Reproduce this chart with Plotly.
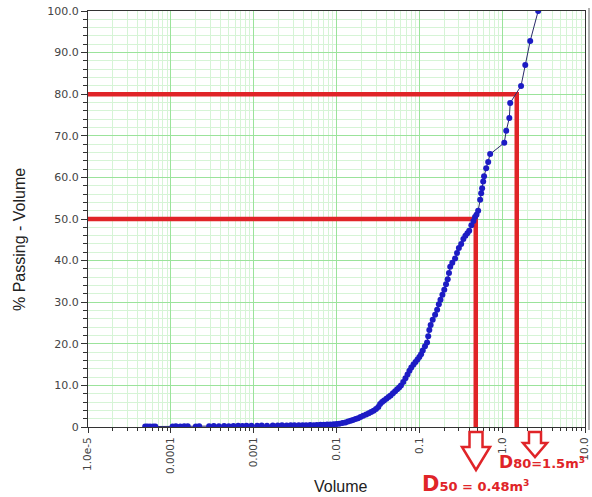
import math
import plotly.graph_objects as go

# ---------------- data ----------------
volume = [4.9e-5, 5.2e-5, 5.6e-5, 6.1e-5, 6.5e-5, 1.05e-4, 1.15e-4, 1.3e-4, 1.45e-4, 1.6e-4,
          2.0e-4, 2.2e-4, 2.9e-4, 3.3e-4, 3.8e-4, 4.4e-4, 5.0e-4, 5.7e-4, 6.5e-4, 7.3e-4,
          8.2e-4, 9.4e-4, 1.1e-3, 1.25e-3, 1.45e-3, 1.7e-3, 1.95e-3, 2.2e-3, 2.5e-3, 2.8e-3,
          3.1e-3, 3.5e-3, 3.9e-3, 4.3e-3, 4.8e-3, 5.3e-3, 5.8e-3, 6.4e-3, 7.0e-3, 7.7e-3,
          8.4e-3, 9.2e-3, 0.0100, 0.0108, 0.0118, 0.0128, 0.0138, 0.0148, 0.0158, 0.0170,
          0.0182, 0.0195, 0.0210, 0.0228, 0.0245, 0.0262, 0.0280, 0.0300, 0.0320, 0.0336,
          0.0355, 0.0375, 0.0400, 0.0425, 0.0450, 0.0480, 0.0510, 0.0540, 0.0570, 0.0600,
          0.0640, 0.0680, 0.0720, 0.0760, 0.0800, 0.0850, 0.0900, 0.0950, 0.1000, 0.1050,
          0.1100, 0.1170, 0.1240, 0.1280, 0.1320, 0.1370, 0.1450, 0.1550, 0.1640, 0.1720,
          0.1800, 0.1900, 0.2000, 0.2100, 0.2200, 0.2280, 0.2360, 0.2500, 0.2700, 0.2850,
          0.3000, 0.3200, 0.3400, 0.3600, 0.3800, 0.4000, 0.4250, 0.4500, 0.4700, 0.4900,
          0.5130, 0.5420, 0.5580, 0.5730, 0.5900, 0.6050, 0.6410, 0.6780, 0.7160, 1.0600,
          1.1200, 1.2200, 1.2500, 1.6900, 1.9000, 2.1800, 2.7200]
passing = [0.1, 0.1, 0.15, 0.1, 0.15, 0.1, 0.2, 0.15, 0.2, 0.2,
           0.15, 0.2, 0.2, 0.25, 0.2, 0.25, 0.2, 0.25, 0.3, 0.25,
           0.3, 0.3, 0.3, 0.35, 0.3, 0.35, 0.35, 0.4, 0.35, 0.4,
           0.4, 0.45, 0.4, 0.45, 0.5, 0.45, 0.5, 0.55, 0.55, 0.6,
           0.6, 0.65, 0.7, 0.8, 0.95, 1.1, 1.3, 1.5, 1.7, 1.9,
           2.1, 2.4, 2.7, 3.0, 3.3, 3.6, 3.9, 4.3, 4.8, 5.5,
           6.0, 6.4, 6.8, 7.2, 7.6, 8.1, 8.6, 9.1, 9.5, 10.0,
           10.8, 11.7, 12.6, 13.5, 14.3, 15.0, 15.6, 16.2, 16.8, 17.5,
           18.4, 19.4, 20.3, 21.8, 23.3, 24.5, 25.8, 27.0, 28.2, 29.5,
           30.6, 31.8, 33.0, 34.3, 35.5, 37.0, 38.5, 39.5, 40.5, 41.8,
           43.0, 44.0, 45.2, 46.0, 46.6, 47.2, 48.5, 49.5, 50.5, 51.0,
           52.0, 54.6, 56.2, 57.4, 59.0, 60.3, 62.2, 63.7, 65.6, 68.3,
           71.2, 74.3, 77.9, 82.0, 87.0, 92.8, 100.0]

d_names = ["50", "80"]
d_sizes = [0.48, 1.5]          # m3
d_passing = [50, 80]

x_tick_vals = [1e-5, 1e-4, 1e-3, 1e-2, 1e-1, 1, 10]
x_tick_text = ["1.0e-5", "0.0001", "0.001", "0.01", "0.1", "1.0", "10.0"]
y_tick_vals = [0, 10, 20, 30, 40, 50, 60, 70, 80, 90, 100]
y_tick_text = ["0", "10.0", "20.0", "30.0", "40.0", "50.0", "60.0", "70.0", "80.0", "90.0", "100.0"]

# ---------------- layout geometry ----------------
W, H = 592, 497
ML, MR, MT, MB = 88, 7, 11, 70
PW, PH = W - ML - MR, H - MT - MB
X_MIN_LOG, X_MAX_LOG = -5, 1

RED = "#e02428"
MAJOR_GRID = "#9be39b"
MINOR_GRID = "#d6f4d6"


def px_x(px):
    return (px - ML) / PW


def px_y(py):
    return (H - MB - py) / PH


fig = go.Figure()

# reference lines for D50 / D80
x_left = 10 ** X_MIN_LOG
for d, p in zip(d_sizes, d_passing):
    fig.add_trace(go.Scatter(x=[x_left, d, d], y=[p, p, 0], mode="lines",
                             line=dict(color=RED, width=4.5), hoverinfo="skip",
                             showlegend=False, cliponaxis=False))

# data curve
fig.add_trace(go.Scatter(x=volume, y=passing, mode="lines+markers",
                         line=dict(color="#2a2a6a", width=1),
                         marker=dict(color="#1c1cc4", size=6, symbol="circle"),
                         showlegend=False))

minor_x = [k * 10 ** e for e in range(X_MIN_LOG, X_MAX_LOG) for k in range(2, 10)]

fig.update_xaxes(type="log", range=[X_MIN_LOG, X_MAX_LOG], automargin=False,
                 tickmode="array", tickvals=x_tick_vals, ticktext=x_tick_text,
                 tickangle=-90, ticks="outside", ticklen=5, tickcolor="#333",
                 tickfont=dict(family="DejaVu Sans", size=10.5, color="#444"),
                 showgrid=True, gridcolor=MAJOR_GRID, gridwidth=1.2,
                 minor=dict(tickmode="array", tickvals=minor_x, ticks="outside",
                            ticklen=3, tickcolor="#333", showgrid=True,
                            gridcolor=MINOR_GRID, gridwidth=1),
                 showline=True, linecolor="#333", linewidth=1.2, mirror=True,
                 zeroline=False)
fig.update_yaxes(range=[0, 100], automargin=False, tickmode="array", tickvals=y_tick_vals,
                 ticktext=y_tick_text, ticks="outside", ticklen=6, tickcolor="#333",
                 tickfont=dict(family="DejaVu Sans", size=11, color="#444"),
                 showgrid=True, gridcolor=MAJOR_GRID, gridwidth=1.2,
                 minor=dict(dtick=2, ticks="outside", ticklen=4, tickcolor="#333",
                            showgrid=True, gridcolor=MINOR_GRID, gridwidth=1),
                 showline=True, linecolor="#333", linewidth=1.2, mirror=True,
                 zeroline=False)

# hollow block arrows below the axis
def arrow_path(cx, top, shaft_half, head_top, head_half, tip):
    pts = [(cx - shaft_half, top), (cx + shaft_half, top), (cx + shaft_half, head_top),
           (cx + head_half, head_top), (cx, tip), (cx - head_half, head_top),
           (cx - shaft_half, head_top)]
    return "M " + " L ".join(f"{px_x(a):.4f},{px_y(b):.4f}" for a, b in pts) + " Z"


shapes = [
    dict(type="path", xref="paper", yref="paper",
         path=arrow_path(476, 432, 6.5, 447, 14, 470),
         line=dict(color=RED, width=2.5), fillcolor="white"),
    dict(type="path", xref="paper", yref="paper",
         path=arrow_path(535, 432, 6, 443, 12, 457),
         line=dict(color=RED, width=2.5), fillcolor="white"),
    # grey frame strip at the right edge of the window
    dict(type="line", xref="paper", yref="paper", x0=px_x(589), x1=px_x(589),
         y0=px_y(8), y1=px_y(430), line=dict(color="#b0b0b0", width=2)),
]

annotations = [
    dict(xref="paper", yref="paper", x=px_x(420), y=px_y(498), xanchor="left",
         yanchor="bottom", showarrow=False,
         text=f"<b><span style='font-size:21px'>D</span>{d_names[0]} = {d_sizes[0]:.2f}m<sup>3</sup></b>",
         font=dict(family="DejaVu Sans", size=13, color=RED)),
    dict(xref="paper", yref="paper", x=px_x(497), y=px_y(474), xanchor="left",
         yanchor="bottom", showarrow=False,
         text=f"<b><span style='font-size:17px'>D</span>{d_names[1]}={d_sizes[1]}m<sup>3</sup></b>",
         font=dict(family="DejaVu Sans", size=13, color=RED)),
    dict(xref="paper", yref="paper", x=px_x(340), y=px_y(486), xanchor="center",
         yanchor="middle", showarrow=False, text="Volume",
         font=dict(family="Liberation Sans", size=16, color="#222")),
    dict(xref="paper", yref="paper", x=px_x(20), y=px_y(240), xanchor="center",
         yanchor="middle", showarrow=False, text="% Passing - Volume", textangle=-90,
         font=dict(family="Liberation Sans", size=16, color="#222")),
]

fig.update_layout(width=W, height=H, margin=dict(l=ML, r=MR, t=MT, b=MB),
                  paper_bgcolor="white", plot_bgcolor="white",
                  shapes=shapes, annotations=annotations, showlegend=False)

fig.write_html("out.html", config={"displayModeBar": False},
               post_script="document.body.style.margin='0';document.body.style.overflow='hidden';")
